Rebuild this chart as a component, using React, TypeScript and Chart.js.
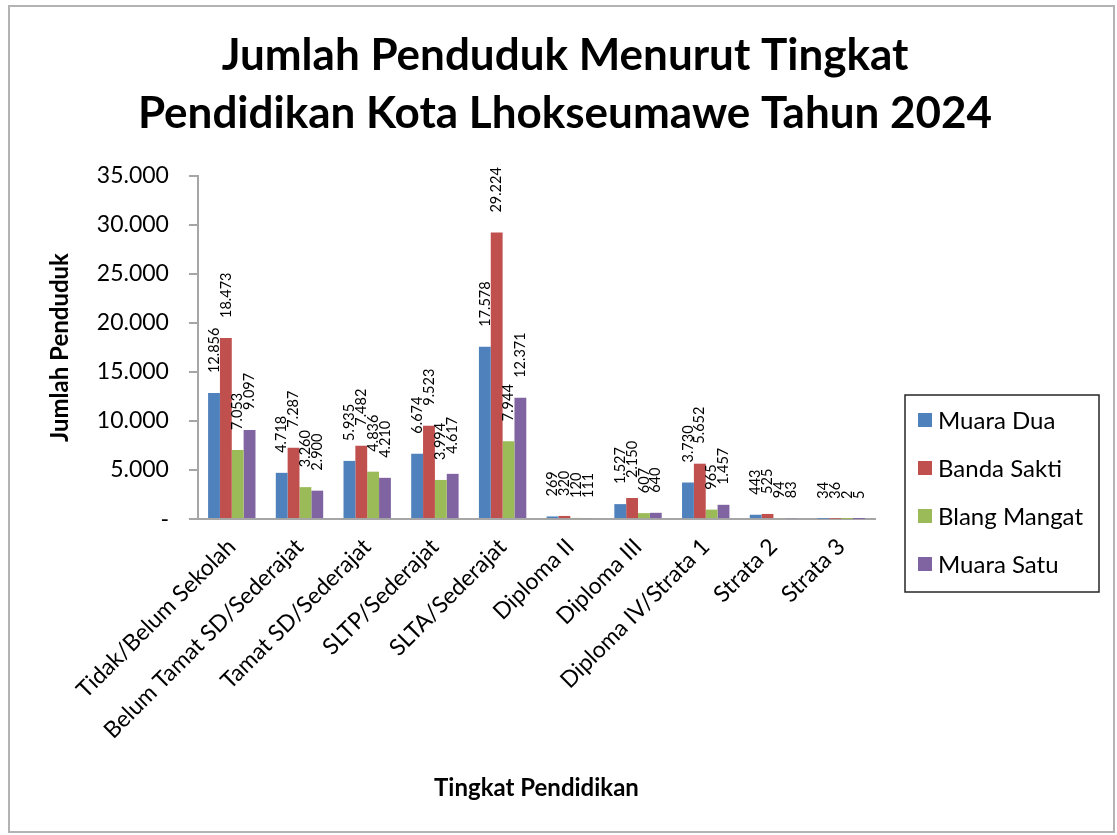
import React, { useEffect, useRef } from "react";
import { Chart, registerables } from "chart.js";

Chart.register(...registerables);

const FONT = "Lato, 'Open Sans', sans-serif";

const titleLines = ["Jumlah Penduduk Menurut Tingkat", "Pendidikan Kota Lhokseumawe Tahun 2024"];
const xAxisTitle = "Tingkat Pendidikan";
const yAxisTitle = "Jumlah Penduduk";

const categories = [
  "Tidak/Belum Sekolah",
  "Belum Tamat SD/Sederajat",
  "Tamat SD/Sederajat",
  "SLTP/Sederajat",
  "SLTA/Sederajat",
  "Diploma II",
  "Diploma III",
  "Diploma IV/Strata 1",
  "Strata 2",
  "Strata 3",
];

const seriesNames = ["Muara Dua", "Banda Sakti", "Blang Mangat", "Muara Satu"];
const seriesColors = ["#4F81BD", "#C0504D", "#9BBB59", "#8064A2"];

const muaraDua = [12856, 4718, 5935, 6674, 17578, 269, 1527, 3730, 443, 34];
const bandaSakti = [18473, 7287, 7482, 9523, 29224, 320, 2150, 5652, 525, 36];
const blangMangat = [7053, 3260, 4836, 3994, 7944, 120, 607, 965, 94, 2];
const muaraSatu = [9097, 2900, 4210, 4617, 12371, 111, 640, 1457, 83, 5];

const yMin = 0;
const yMax = 35000;
const yStep = 5000;

const fmt = (v: number) => String(Math.round(v)).replace(/\B(?=(\d{3})+(?!\d))/g, ".");

const framePlugin = {
  id: "frame",
  beforeDraw(chart: any) {
    const { ctx, width, height } = chart;
    ctx.save();
    ctx.fillStyle = "#ffffff";
    ctx.fillRect(0, 0, width, height);
    ctx.strokeStyle = "#b3b3b3";
    ctx.lineWidth = 2;
    ctx.strokeRect(9, 6, width - 12, height - 9);
    ctx.restore();
  },
};

const titlePlugin = {
  id: "twoLineTitle",
  afterDraw(chart: any) {
    const { ctx } = chart;
    ctx.save();
    ctx.font = `bold 44px ${FONT}`;
    ctx.fillStyle = "#000";
    ctx.textAlign = "center";
    ctx.textBaseline = "alphabetic";
    titleLines.forEach((line, i) => {
      ctx.fillText(line, 565, 70 + i * 58);
    });
    ctx.restore();
  },
};

const labelPlugin = {
  id: "barLabels",
  afterDatasetsDraw(chart: any) {
    const { ctx } = chart;
    ctx.save();
    ctx.font = `14.5px ${FONT}`;
    ctx.fillStyle = "#000";
    ctx.textAlign = "left";
    ctx.textBaseline = "middle";
    chart.data.datasets.forEach((ds: any, i: number) => {
      const meta = chart.getDatasetMeta(i);
      meta.data.forEach((bar: any, j: number) => {
        const v = ds.data[j];
        ctx.save();
        ctx.translate(bar.x, bar.y - 20);
        ctx.rotate(-Math.PI / 2);
        ctx.fillText(fmt(v), 0, 0);
        ctx.restore();
      });
    });
    ctx.restore();
  },
};

const legendPlugin = {
  id: "boxLegend",
  afterDraw(chart: any) {
    const { ctx, chartArea } = chart;
    const left = chartArea.right + 30;
    const top = 395;
    const w = 194;
    const rowH = 48;
    const n = chart.data.datasets.length;
    const h = rowH * n + 5;
    ctx.save();
    ctx.strokeStyle = "#262626";
    ctx.lineWidth = 1.5;
    ctx.strokeRect(left, top, w, h);
    ctx.font = `24px ${FONT}`;
    ctx.textBaseline = "middle";
    ctx.textAlign = "left";
    chart.data.datasets.forEach((ds: any, i: number) => {
      const cy = top + 25 + i * rowH;
      ctx.fillStyle = ds.backgroundColor;
      ctx.fillRect(left + 13, cy - 7, 14, 14);
      ctx.fillStyle = "#000";
      ctx.fillText(ds.label, left + 33, cy + 1);
    });
    ctx.restore();
  },
};

export default function App() {
  const ref = useRef<HTMLCanvasElement>(null);
  useEffect(() => {
    if (!ref.current) return;
    const seriesValues = [muaraDua, bandaSakti, blangMangat, muaraSatu];
    const chart = new Chart(ref.current, {
      type: "bar",
      data: {
        labels: categories,
        datasets: seriesNames.map((name, i) => ({
          label: name,
          data: seriesValues[i],
          backgroundColor: seriesColors[i],
          borderWidth: 0,
          categoryPercentage: 0.7,
          barPercentage: 1.0,
        })),
      },
      options: {
        animation: false,
        responsive: false,
        layout: { padding: { left: 46, right: 242, top: 176, bottom: 32 } },
        plugins: {
          legend: { display: false },
          tooltip: { enabled: false },
          title: { display: false },
        },
        scales: {
          x: {
            grid: { display: false },
            border: { display: true, color: "#a6a6a6", width: 2 },
            ticks: {
              color: "#000",
              font: { family: FONT, size: 23 },
              minRotation: 45,
              maxRotation: 45,
              autoSkip: false,
              padding: 6,
            },
            title: {
              display: true,
              text: xAxisTitle,
              color: "#000",
              font: { family: FONT, size: 24, weight: "bold" },
              padding: { top: 24, bottom: 0 },
            },
          },
          y: {
            min: yMin,
            max: yMax,
            grid: {
              display: true,
              drawOnChartArea: false,
              drawTicks: true,
              tickLength: 9,
              color: "#a6a6a6",
              lineWidth: 2,
            },
            border: { display: true, color: "#a6a6a6", width: 2 },
            ticks: {
              stepSize: yStep,
              color: "#000",
              font: { family: FONT, size: 23 },
              padding: 20,
              callback: (v: any) => (Number(v) === 0 ? "-" : fmt(Number(v))),
            },
            title: {
              display: true,
              text: yAxisTitle,
              color: "#000",
              font: { family: FONT, size: 24, weight: "bold" },
              padding: { top: 0, bottom: 2 },
            },
          },
        },
      },
      plugins: [framePlugin, labelPlugin, legendPlugin, titlePlugin],
    } as any);
    return () => chart.destroy();
  }, []);
  return (
    <div style={{ position: "absolute", left: 0, top: 0, width: 1117, height: 835 }}>
      <canvas ref={ref} width={1117} height={835} style={{ width: 1117, height: 835, display: "block" }} />
    </div>
  );
}
